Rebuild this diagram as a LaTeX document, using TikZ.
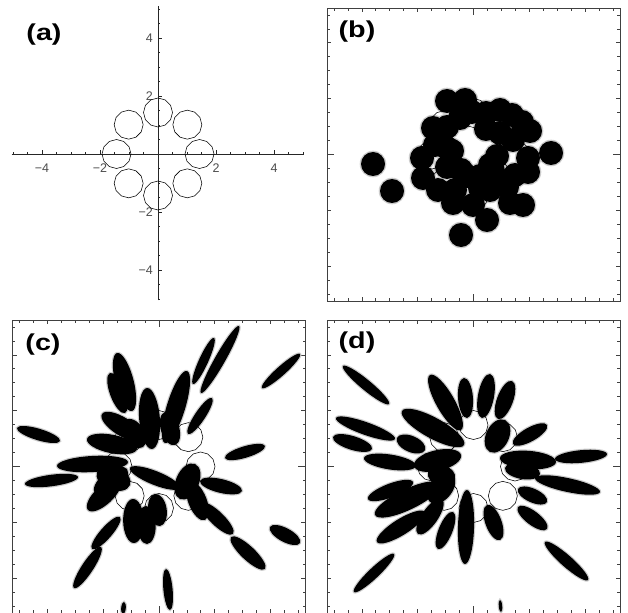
\documentclass[tikz,border=0pt]{standalone}
\usepackage{fontspec}
\setmainfont{Liberation Sans}
\usepackage{tikz}
\usetikzlibrary{calc}
\newcommand{\rings}[2]{%
  \foreach \a in {0,45,...,315}
    \draw[ring] (#1,#2) ++(\a:41.5) +(0:14.5) \foreach \b in {30,60,...,330} {-- +(\b:14.5)} -- cycle;}
\newcommand{\panelframe}{%
  \draw[frame] (-5.25,-5.25) rectangle (5.25,5.25);
  \foreach \t in {-5,-4.5,...,5}
    \draw[frame] (\t,-5.25) -- +(0,.09) (\t,5.25) -- +(0,-.09) (-5.25,\t) -- +(.09,0) (5.25,\t) -- +(-.09,0);
  \foreach \t in {-4,-2,2,4}
    \draw[frame] (\t,-5.25) -- +(0,.15) (\t,5.25) -- +(0,-.15) (-5.25,\t) -- +(.15,0) (5.25,\t) -- +(-.15,0);
  \draw[frame] (0,-5.25) -- +(0,.26) (0,5.25) -- +(0,-.26) (-5.25,0) -- +(.26,0) (5.25,0) -- +(-.26,0);}
\newcommand{\petal}[6]{%
  \pgfmathsetmacro\pang{atan2(#3-#5,#4-#2)}%
  \pgfmathsetmacro\plen{veclen(#4-#2,#5-#3)/2}%
  \path[#1, rotate around={\pang:({(#2+#4)/2},{(#3+#5)/2})}] ({(#2+#4)/2},{(#3+#5)/2}) ellipse ({\plen} and {1.15*#6});}
\newcommand{\blobsb}{373/164, 392/191, 461/235, 551/153, 447/101, 433/128, 447/127, 460/118, 472/112, 486/113,
  500/110, 512/115, 522/122, 530/131, 500/133, 513/140, 497/156, 493/171, 528/158, 528/172, 422/158, 423/178,
  447/148, 435/145, 447/167, 467/176, 480/176, 453/203, 473/205, 487/220, 510/203, 523/205, 490/190, 507/187,
  480/188, 455/190, 438/190, 515/175, 465/100, 452/151, 490/165, 486/129, 461/170}
\newcommand{\petalsc}{214/338/193/384/4, 239/326/201/393/4.5, 300/354/262/388/4, 212/398/188/434/4.5,
  265/446/225/458/5, 17/428/60/441/5, 117/353/132/411/8, 110/373/125/413/6.5, 147/388/152/449/9,
  187/371/165/443/8, 165/412/175/445/8, 102/414/142/439/8, 87/439/137/449/8, 125/420/143/447/9,
  57/466/128/462/7, 25/484/78/477/5, 97/472/130/485/10, 88/510/120/480/8, 95/494/127/469/9,
  130/468/180/488/6, 195/464/180/499/10, 190/482/205/520/8, 200/481/242/491/6, 201/503/233/534/6,
  231/537/265/569/6, 270/527/300/543/6, 133/499/134/543/9, 146/506/147/544/8, 155/494/160/526/8,
  120/517/92/549/5, 101/547/74/588/5, 166/569/170/610/4, 124/602/123/614/2}
\newcommand{\petalsd}{343/366/389/404/4.5, 336/418/395/439/5.5, 333/437/372/449/6, 402/411/464/445/9,
  397/438/425/450/7, 430/375/461/430/8, 464/378/467/418/6.5, 490/374/482/418/7, 512/381/498/419/7,
  505/420/490/452/10, 547/425/513/444/6, 607/454/555/459/5.5, 500/458/556/462/8, 505/468/540/474/7,
  600/492/535/478/6, 547/502/518/489/6, 547/529/518/507/6, 588/580/545/542/5, 500/540/487/505/7,
  465/564/467/490/7, 438/549/453/512/6, 354/592/394/554/4.5, 364/458/416/466/6.5, 414/466/461/455/9,
  368/499/413/482/6, 375/515/440/484/9, 377/542/425/512/7, 418/534/442/499/7, 430/502/452/474/10,
  428/472/455/479/9, 500/600/501/612/1.5}

\begin{document}
\begin{tikzpicture}[x=1pt, y=-1pt,
  axis/.style={black!85, line width=.7pt},
  frame/.style={black!75, line width=.8pt},
  ring/.style={black, line width=.55pt},
  tick/.style={font=\fontsize{12.5}{14}\selectfont, text=black!70, inner sep=0pt},
  lbl/.style={font=\fontsize{23}{26}\selectfont\bfseries, xscale=1.25, transform shape, inner sep=0pt},
  halo/.style={fill=black!20, draw=black!20, line width=2.4pt},
  core/.style={fill=black}]
\useasboundingbox (0,0) rectangle (628,612);
% (a)
\begin{scope}[shift={(158,154)}, x=29pt, y=29pt]
\draw[axis] (-5.05,0) -- (5.05,0);
\draw[axis] (0,-5.05) -- (0,5.1);
\foreach \t in {-5,-4.5,...,5} \draw[axis] (\t,0) -- (\t,.08) (0,\t) -- (.08,\t);
\foreach \t in {-4,-2,2,4} \draw[axis] (\t,0) -- (\t,.14) (0,\t) -- (.14,\t);
\foreach \t/\l in {-4/−4,-2/−2,2/2,4/4} \node[tick] (xt\t) at (\t,-.48) {\l};
\foreach \t/\l in {-4/−4,-2/−2,2/2,4/4} \node[tick, anchor=east] (yt\t) at (-.17,\t) {\l};
\end{scope}
\rings{158}{154}
\node[lbl] (la) at (44,35) {(a)};
% (b)
\begin{scope}[shift={(473.5,154.5)}, x=27.9pt, y=27.9pt]
\panelframe
\end{scope}
\foreach \x/\y in \blobsb \fill[black!20] (\x,\y) circle (13.3);
\foreach \x/\y in \blobsb \fill (\x,\y) circle (12);
\rings{473.5}{154.5}
\node[lbl] (lb) at (357,32) {(b)};
% (c)
\begin{scope}[shift={(159,466.5)}, x=27.9pt, y=27.9pt]
\panelframe
\end{scope}
\begin{scope}
\clip (12,319) rectangle (306,614);
\foreach \xa/\ya/\xb/\yb/\w in \petalsc {\petal{halo}{\xa}{\ya}{\xb}{\yb}{\w}}
\foreach \xa/\ya/\xb/\yb/\w in \petalsc {\petal{core}{\xa}{\ya}{\xb}{\yb}{\w}}
\end{scope}
\rings{159}{466.5}
\node[lbl] (lc) at (43,345) {(c)};
% (d)
\begin{scope}[shift={(473.5,466.5)}, x=27.9pt, y=27.9pt]
\panelframe
\end{scope}
\begin{scope}
\clip (327,319) rectangle (620,614);
\foreach \xa/\ya/\xb/\yb/\w in \petalsd {\petal{halo}{\xa}{\ya}{\xb}{\yb}{\w}}
\foreach \xa/\ya/\xb/\yb/\w in \petalsd {\petal{core}{\xa}{\ya}{\xb}{\yb}{\w}}
\end{scope}
\rings{473.5}{466.5}
\node[lbl] (ld) at (357,343) {(d)};
\end{tikzpicture}
\end{document}
